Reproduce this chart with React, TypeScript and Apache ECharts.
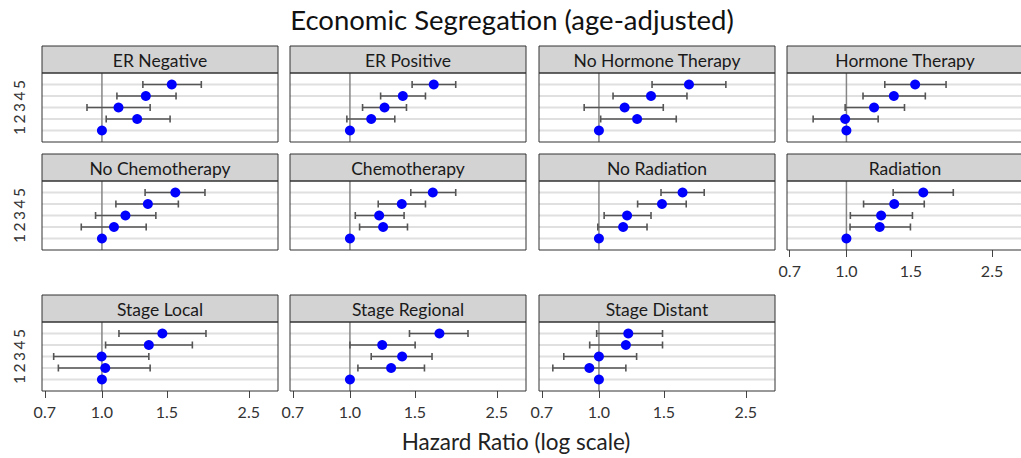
import React, { useEffect, useRef } from "react";
import * as echarts from "echarts";

// ---------- data ----------
const chartTitle = "Economic Segregation (age-adjusted)";
const xAxisTitle = "Hazard Ratio (log scale)";
const panelTitles = [
  "ER Negative",
  "ER Positive",
  "No Hormone Therapy",
  "Hormone Therapy",
  "No Chemotherapy",
  "Chemotherapy",
  "No Radiation",
  "Radiation",
  "Stage Local",
  "Stage Regional",
  "Stage Distant",
];
const quintiles = [1, 2, 3, 4, 5];
const xTicks = [0.7, 1.0, 1.5, 2.5];
const xRange = [0.688, 3.0];

// hazard ratio per panel, quintile 1..5
const hazardRatio = [
  [1, 1.246, 1.109, 1.315, 1.546],
  [1, 1.142, 1.241, 1.391, 1.687],
  [1, 1.269, 1.174, 1.384, 1.754],
  [1, 0.992, 1.19, 1.348, 1.541],
  [1, 1.078, 1.158, 1.332, 1.581],
  [1, 1.23, 1.2, 1.382, 1.677],
  [1, 1.163, 1.192, 1.482, 1.685],
  [1, 1.233, 1.244, 1.351, 1.622],
  [1, 1.021, 0.998, 1.34, 1.458],
  [1, 1.293, 1.385, 1.223, 1.748],
  [1, 0.942, 1.0, 1.183, 1.201],
];
const lowerCI = [
  [1, 1.027, 0.911, 1.098, 1.291],
  [1, 0.981, 1.082, 1.211, 1.474],
  [1, 1.011, 0.912, 1.092, 1.393],
  [1, 0.811, 0.992, 1.11, 1.273],
  [1, 0.879, 0.961, 1.091, 1.309],
  [1, 1.062, 1.034, 1.193, 1.462],
  [1, 0.993, 1.033, 1.273, 1.473],
  [1, 1.023, 1.025, 1.114, 1.342],
  [1, 0.762, 0.74, 1.023, 1.112],
  [1, 1.051, 1.142, 1.0, 1.45],
  [1, 0.75, 0.803, 0.944, 0.986],
];
const upperCI = [
  [1, 1.53, 1.351, 1.588, 1.859],
  [1, 1.323, 1.423, 1.602, 1.935],
  [1, 1.62, 1.494, 1.732, 2.208],
  [1, 1.221, 1.441, 1.643, 1.872],
  [1, 1.318, 1.4, 1.611, 1.902],
  [1, 1.432, 1.402, 1.602, 1.935],
  [1, 1.35, 1.384, 1.724, 1.929],
  [1, 1.496, 1.515, 1.632, 1.959],
  [1, 1.351, 1.34, 1.758, 1.914],
  [1, 1.592, 1.669, 1.502, 2.089],
  [1, 1.183, 1.265, 1.487, 1.487],
];

// ---------- layout ----------
const FONT = "Lato, 'Open Sans', sans-serif";
const COL_LEFT = [42, 290, 539, 787];
const PANEL_W = 236;
const ROW_HEADER_TOP = [46, 154, 295];
const HEADER_H = 27;
const PLOT_H = 69;
const NCOL = 4;
const bottomPanels = [7, 8, 9, 10];

function panelBox(i: number) {
  const col = i % NCOL;
  const row = Math.floor(i / NCOL);
  const left = COL_LEFT[col];
  const headerTop = ROW_HEADER_TOP[row];
  return { col, row, left, headerTop, plotTop: headerTop + HEADER_H };
}

export default function App() {
  const ref = useRef<HTMLDivElement>(null);

  useEffect(() => {
    if (!ref.current) return;
    const chart = echarts.init(ref.current, undefined, { renderer: "svg" });

    const grids: any[] = [];
    const xAxes: any[] = [];
    const yAxes: any[] = [];
    const series: any[] = [];
    const graphics: any[] = [];
    const lnTicks = xTicks.map((t) => Math.log(t));

    panelTitles.forEach((title, i) => {
      const b = panelBox(i);
      const isLeft = b.col === 0;
      const isBottom = bottomPanels.includes(i);
      grids.push({
        left: b.left,
        top: b.plotTop,
        width: PANEL_W,
        height: PLOT_H,
        show: false,
      });
      xAxes.push({
        gridIndex: i,
        type: "value",
        min: Math.log(xRange[0]),
        max: Math.log(xRange[1]),
        axisLine: { show: false },
        splitLine: { show: false },
        axisTick: {
          show: isBottom,
          customValues: lnTicks,
          length: 7,
          lineStyle: { color: "#444", width: 1 },
        },
        axisLabel: {
          show: isBottom,
          customValues: lnTicks,
          formatter: (v: number) => Math.exp(v).toFixed(1),
          fontSize: 16,
          color: "#333",
          margin: 12,
          fontFamily: FONT,
        },
      });
      yAxes.push({
        gridIndex: i,
        type: "value",
        min: 0,
        max: 6,
        axisLine: { show: false },
        splitLine: { show: false },
        axisTick: {
          show: isLeft,
          customValues: quintiles,
          length: 6,
          lineStyle: { color: "#444", width: 1 },
        },
        axisLabel: {
          show: isLeft,
          customValues: quintiles,
          rotate: 90,
          fontSize: 15.5,
          color: "#333",
          margin: 15,
          fontFamily: FONT,
          formatter: (v: number) => String(v),
        },
      });

      // horizontal grid lines at each quintile
      series.push({
        type: "custom",
        xAxisIndex: i,
        yAxisIndex: i,
        silent: true,
        z: 1,
        data: quintiles.map((q) => [0, q]),
        encode: { x: 0, y: 1 },
        renderItem: (params: any, api: any) => {
          const y = api.coord([0, api.value(1)])[1];
          const cs = params.coordSys;
          return {
            type: "line",
            shape: { x1: cs.x, y1: y, x2: cs.x + cs.width, y2: y },
            style: { stroke: "#e0e0e0", lineWidth: 2 },
          };
        },
      });
      // reference line at HR = 1
      series.push({
        type: "custom",
        xAxisIndex: i,
        yAxisIndex: i,
        silent: true,
        z: 2,
        data: [[Math.log(1), 3]],
        encode: { x: 0, y: 1 },
        renderItem: (params: any, api: any) => {
          const x = api.coord([api.value(0), 3])[0];
          const cs = params.coordSys;
          return {
            type: "line",
            shape: { x1: x, y1: cs.y, x2: x, y2: cs.y + cs.height },
            style: { stroke: "#858585", lineWidth: 1.5 },
          };
        },
      });
      // confidence intervals
      const ciData = quintiles
        .map((q, j) => [Math.log(lowerCI[i][j]), Math.log(upperCI[i][j]), q])
        .filter((d) => d[1] > d[0]);
      series.push({
        type: "custom",
        xAxisIndex: i,
        yAxisIndex: i,
        silent: true,
        z: 3,
        data: ciData,
        encode: { x: [0, 1], y: 2 },
        renderItem: (params: any, api: any) => {
          const p1 = api.coord([api.value(0), api.value(2)]);
          const p2 = api.coord([api.value(1), api.value(2)]);
          const h = 3.5;
          const style = { stroke: "#555555", lineWidth: 1.6 };
          return {
            type: "group",
            children: [
              { type: "line", shape: { x1: p1[0], y1: p1[1], x2: p2[0], y2: p2[1] }, style },
              { type: "line", shape: { x1: p1[0], y1: p1[1] - h, x2: p1[0], y2: p1[1] + h }, style },
              { type: "line", shape: { x1: p2[0], y1: p2[1] - h, x2: p2[0], y2: p2[1] + h }, style },
            ],
          };
        },
      });
      // point estimates
      series.push({
        type: "scatter",
        xAxisIndex: i,
        yAxisIndex: i,
        z: 5,
        symbol: "circle",
        symbolSize: 10,
        itemStyle: { color: "#0000ff", opacity: 1 },
        data: quintiles.map((q, j) => [Math.log(hazardRatio[i][j]), q]),
      });

      // strip header
      graphics.push({
        type: "rect",
        z: 50,
        shape: { x: b.left, y: b.headerTop, width: PANEL_W, height: HEADER_H },
        style: { fill: "#d3d3d3", stroke: "#333", lineWidth: 1 },
      });
      graphics.push({
        type: "text",
        z: 51,
        x: b.left + PANEL_W / 2,
        y: b.headerTop + HEADER_H / 2 + 1,
        style: {
          text: title,
          fill: "#1a1a1a",
          font: `17.5px ${FONT}`,
          align: "center",
          verticalAlign: "middle",
        },
      });
      // plot border
      graphics.push({
        type: "rect",
        z: 50,
        shape: { x: b.left, y: b.plotTop, width: PANEL_W, height: PLOT_H },
        style: { fill: "none", stroke: "#333", lineWidth: 1 },
      });
    });

    graphics.push({
      type: "text",
      z: 51,
      x: 512,
      y: 19,
      style: {
        text: chartTitle,
        fill: "#111",
        font: `27.5px ${FONT}`,
        align: "center",
        verticalAlign: "middle",
      },
    });
    graphics.push({
      type: "text",
      z: 51,
      x: 516,
      y: 441,
      style: {
        text: xAxisTitle,
        fill: "#222",
        font: `22.5px ${FONT}`,
        align: "center",
        verticalAlign: "middle",
      },
    });

    chart.setOption({
      animation: false,
      backgroundColor: "#ffffff",
      textStyle: { fontFamily: FONT },
      grid: grids,
      xAxis: xAxes,
      yAxis: yAxes,
      series,
      graphic: { elements: graphics },
    });

    return () => chart.dispose();
  }, []);

  return (
    <div
      ref={ref}
      style={{ position: "fixed", left: 0, top: 0, width: 1021, height: 458 }}
    />
  );
}
